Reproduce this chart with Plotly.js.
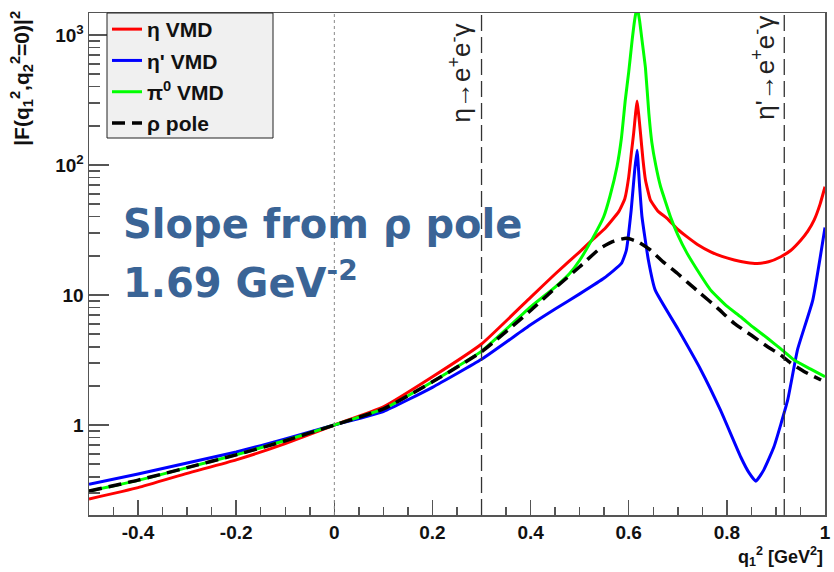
<!DOCTYPE html>
<html>
<head>
<meta charset="utf-8">
<script src="https://cdn.plot.ly/plotly-3.0.1.min.js"></script>
<style>html,body{margin:0;padding:0;background:#fff;}#chart{width:834px;height:572px;}</style>
</head>
<body>
<div id="chart"></div>
<script>
// η VMD
const etaX = [-0.5,-0.4,-0.3,-0.2,-0.1,0,0.1,0.2,0.3,0.4,0.45,0.5,0.528,0.55,0.58,0.592,0.6,0.606,0.61,0.614,0.617,0.62,0.624,0.629,0.634,0.644,0.66,0.678,0.7,0.719,0.74,0.767,0.79,0.815,0.84,0.862,0.885,0.91,0.93,0.951,0.965,0.978,0.99,1.0];
const etaY = [0.27,0.33,0.425,0.54,0.72,1.0,1.38,2.35,4.2,9.6,14.5,21.5,27,32,44,55,81,130,175,250,310,250,175,110,77,54,44,38.9,32,28,24.5,21.5,19.8,18.6,17.8,17.5,18,19.7,22,26.5,31,37.8,50,68];
// η' VMD
const etapX = [-0.5,-0.4,-0.3,-0.2,-0.1,0,0.1,0.2,0.3,0.4,0.45,0.5,0.55,0.585,0.595,0.605,0.612,0.617,0.622,0.627,0.64,0.654,0.7,0.746,0.787,0.828,0.845,0.859,0.875,0.896,0.924,0.944,0.975,1.0];
const etapY = [0.35,0.42,0.51,0.62,0.78,1.0,1.27,1.95,3.2,5.9,7.8,10.2,13.5,17.5,22,45,90,130,70,40,18.6,10.9,5.5,2.7,1.3,0.57,0.43,0.37,0.45,0.68,1.56,3.8,9.1,33];
// π0 VMD
const piX = [-0.5,-0.4,-0.3,-0.2,-0.1,0,0.1,0.2,0.3,0.4,0.45,0.48,0.5,0.528,0.549,0.562,0.576,0.585,0.593,0.6,0.607,0.612,0.617,0.622,0.627,0.634,0.641,0.647,0.655,0.665,0.675,0.685,0.7,0.719,0.74,0.767,0.8,0.828,0.855,0.883,0.91,0.937,0.97,1.0];
const piY = [0.31,0.375,0.47,0.59,0.76,1.0,1.33,2.15,3.7,8.1,11.5,14.7,18.5,28,40,58,97,160,316,520,916,1300,1650,1300,916,560,250,150,100,68,52,40,29,20.9,15.5,10.9,8.2,6.8,5.6,4.65,3.85,3.16,2.7,2.35];
// ρ pole
const rhoX = [-0.5,-0.4,-0.3,-0.2,-0.1,0,0.1,0.2,0.3,0.4,0.45,0.5,0.542,0.57,0.596,0.62,0.644,0.67,0.699,0.72,0.746,0.78,0.815,0.85,0.883,0.91,0.93,0.96,0.992];
const rhoY = [0.31,0.377,0.47,0.59,0.757,1.0,1.33,2.15,3.66,7.6,11.3,16.5,22.9,26,27.3,25.5,22.2,18,14.7,12.5,10.3,8,6.06,4.9,4.0,3.45,3.0,2.55,2.22];

const yTickVals = [1,10,100,1000];
const yTickText = ['1','10','10<sup>2</sup>','10<sup>3</sup>'];
const xTickVals = [-0.4,-0.2,0,0.2,0.4,0.6,0.8,1];
const xTickText = ['-0.4','-0.2','0','0.2','0.4','0.6','0.8','1'];
const etaDecay = 0.3, etapDecay = 0.917;

const traces = [
  {x: etaX, y: etaY, name: 'η VMD', legendgroup:'a', line:{color:'#ff0000', width:3, shape:'spline', smoothing:0.4}},
  {x: etapX, y: etapY, name: "η' VMD", legendgroup:'b', line:{color:'#0000ff', width:3, shape:'spline', smoothing:0.4}},
  {x: piX, y: piY, name: 'π<sup>0</sup> VMD', legendgroup:'c', line:{color:'#00ff00', width:3, shape:'spline', smoothing:0.4}},
  {x: rhoX, y: rhoY, name: 'ρ pole', legendgroup:'d', line:{color:'#000000', width:3.5, dash:'13px,7px', shape:'spline', smoothing:0.5}}
].map(t => Object.assign({type:'scatter', mode:'lines'}, t));

const FONT = 'Liberation Sans, Arial, sans-serif';
const PW = 736, PH = 502, L = 89, T = 13;
const px2x = p => (p - L) / PW;
const py2y = p => 1 - (p - T) / PH;

const layout = {
  width: 834, height: 572,
  margin: {l: 89, r: 9, t: 13, b: 57},
  paper_bgcolor: '#fff', plot_bgcolor: '#fff',
  font: {family: FONT, color: '#111'},
  showlegend: true,
  legend: {x: px2x(107), y: 1.008, xanchor: 'left', yanchor: 'top', bgcolor: 'rgba(0,0,0,0)', borderwidth: 0,
           font: {family: FONT, size: 21, color: '#111', weight: 'bold'}, tracegroupgap: 1},
  xaxis: {range: [-0.5, 1.0], tickmode: 'array', tickvals: xTickVals, ticktext: xTickText,
          ticks: 'inside', ticklen: 15, tickwidth: 1.5, tickcolor: '#555',
          minor: {ticks: 'inside', ticklen: 8, tickwidth: 1.5, tickcolor: '#555', dtick: 0.05, tick0: 0},
          showgrid: false, zeroline: false, showline: true, linecolor: '#555', linewidth: 1.5, mirror: true,
          tickfont: {family: FONT, size: 19, color: '#111', weight: 'bold'}},
  yaxis: {type: 'log', range: [-0.692, 3.169], tickmode: 'array', tickvals: yTickVals, ticktext: yTickText,
          ticks: 'inside', ticklen: 20, tickwidth: 1.5, tickcolor: '#555',
          minor: {ticks: 'inside', ticklen: 11, tickwidth: 1.5, tickcolor: '#555', dtick: 'D1'},
          showgrid: false, zeroline: false, showline: true, linecolor: '#555', linewidth: 1.5, mirror: true,
          tickfont: {family: FONT, size: 19, color: '#111', weight: 'bold'}},
  shapes: [
    {type:'line', xref:'x', yref:'paper', x0:0, x1:0, y0:0, y1:1, line:{color:'#888', width:1, dash:'dot'}},
    {type:'line', xref:'x', yref:'paper', x0:etaDecay, x1:etaDecay, y0:0, y1:1, line:{color:'#333', width:1.3, dash:'16px,6px'}},
    {type:'line', xref:'x', yref:'paper', x0:etapDecay, x1:etapDecay, y0:0, y1:1, line:{color:'#333', width:1.3, dash:'16px,6px'}},
    {type:'rect', xref:'paper', yref:'paper', x0:px2x(107), x1:px2x(273), y0:py2y(138), y1:1, layer:'above',
     fillcolor:'#f0f0f0', line:{color:'#222', width:1}}
  ],
  annotations: [
    {xref:'x', yref:'paper', x: etaDecay, y: 1, xanchor:'right', yanchor:'top', xshift:-3, yshift:-9,
     text:'η→e<sup>+</sup>e<sup>-</sup>γ', textangle:-90, showarrow:false, font:{family:FONT, size:26, color:'#222'}},
    {xref:'x', yref:'paper', x: etapDecay, y: 1, xanchor:'right', yanchor:'top', xshift:-3, yshift:-1,
     text:"η'→e<sup>+</sup>e<sup>-</sup>γ", textangle:-90, showarrow:false, font:{family:FONT, size:26, color:'#222'}},
    {xref:'paper', yref:'paper', x: -0.092, y: 1.0, xanchor:'center', yanchor:'top', yshift: 4,
     text:'|F(q<sub>1</sub><sup>2</sup>,q<sub>2</sub><sup>2</sup>=0)|<sup>2</sup>', textangle:-90, showarrow:false,
     font:{family:FONT, size:21, color:'#111', weight:'bold'}},
    {xref:'paper', yref:'paper', x: 1.0, y: 0, xanchor:'right', yanchor:'top', yshift:-27,
     text:'q<sub>1</sub><sup>2</sup> [GeV<sup>2</sup>]', showarrow:false, font:{family:FONT, size:18, color:'#111', weight:'bold'}},
    {xref:'paper', yref:'paper', x: px2x(121), y: py2y(199), xanchor:'left', yanchor:'top',
     text:'Slope from ρ pole', showarrow:false, font:{family:'DejaVu Sans, sans-serif', size:40, color:'#3a6496', weight:'bold'}},
    {xref:'paper', yref:'paper', x: px2x(121), y: py2y(252), xanchor:'left', yanchor:'top',
     text:'1.69 GeV<sup>-2</sup>', showarrow:false, font:{family:'DejaVu Sans, sans-serif', size:40, color:'#3a6496', weight:'bold'}}
  ]
};
Plotly.newPlot('chart', traces, layout, {staticPlot: true, displayModeBar: false});
</script>
</body>
</html>
